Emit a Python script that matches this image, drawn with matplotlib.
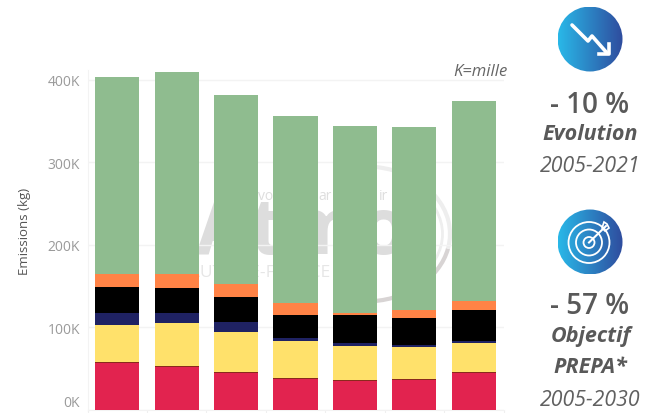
import matplotlib
matplotlib.use("Agg")
import matplotlib.pyplot as plt
import numpy as np
from matplotlib.colors import LinearSegmentedColormap
from matplotlib.patches import Circle, Arc, Polygon

plt.rcParams["font.family"] = ["Open Sans", "DejaVu Sans"]

# K de chaque couche, du bas vers le haut
red = [56.6, 52.0, 44.8, 37.0, 34.7, 36.0, 44.4]
brown = [1.4, 1.3, 0.8, 1.8, 1.3, 0.8, 1.2]
yellow = [45.0, 51.7, 48.1, 44.0, 41.6, 39.6, 35.6]
navy = [14.6, 12.6, 13.3, 4.5, 3.4, 1.6, 1.6]
black = [31.4, 30.4, 29.6, 27.4, 33.7, 32.7, 38.2]
orange = [16.0, 16.4, 16.4, 15.0, 2.9, 9.7, 11.0]
green = [238.0, 245.6, 229.0, 225.9, 226.4, 222.6, 242.5]

layers = [red, brown, yellow, navy, black, orange, green]
colors = ["#e2234f", "#8a2a1c", "#ffe16b", "#1f2263", "#000000", "#ff8346", "#8fbc8f"]
yticks = [0, 100, 200, 300, 400]
ytick_labels = ["0K", "100K", "200K", "300K", "400K"]

W, H = 654, 414
fig = plt.figure(figsize=(W / 100, H / 100), dpi=100)

# axes calees sur les pixels : 0K vers y=411, 400K vers y=81
top_px, bottom_px = 70.8, 410.8
left_px, right_px = 87.5, 503.5
ax = fig.add_axes([left_px / W, 1 - bottom_px / H,
                   (right_px - left_px) / W, (bottom_px - top_px) / H])
ax.set_ylim(0, (bottom_px - top_px) / 0.825)
ax.set_xlim(-0.5, 6.5)
ax.patch.set_alpha(0)

x = np.arange(len(red))
bottom = np.zeros(len(red))
for vals, col in zip(layers, colors):
    ax.bar(x, vals, width=0.745, bottom=bottom, color=col, zorder=3)
    bottom += np.array(vals)

ax.set_yticks(yticks)
ax.set_yticklabels(ytick_labels, fontsize=10, color="#9a9a9a", va="center_baseline")
ax.get_yticklabels()[0].set_va("bottom")
ax.set_xticks(np.arange(-0.5, 7, 1))
ax.set_xticklabels([])
ax.tick_params(axis="x", length=2.5, color="#efefef")
ax.tick_params(axis="y", length=0, pad=5.5)
ax.grid(axis="y", color="#f3f3f3", linewidth=1, zorder=0)
ax.set_axisbelow(True)
for s in ["top", "right"]:
    ax.spines[s].set_visible(False)
ax.spines["left"].set_color("#f3f3f3")
ax.spines["bottom"].set_color("#f3f3f3")
ax.set_ylabel("Emissions (kg)", fontsize=9.5, color="#555555")
ax.yaxis.set_label_coords(-0.135, 0.527)

# filigrane derriere les barres
bg = fig.add_axes([0, 0, 1, 1], zorder=-1)
bg.set_xlim(0, W)
bg.set_ylim(H, 0)
bg.axis("off")
bg.text(196, 254, "Atmo", fontsize=56, fontweight="bold", color="#dddddd",
        ha="left", va="baseline")
for frag, fx in [("vo", 266), ("ar", 325), ("ir", 384)]:
    bg.text(fx, 197, frag, fontsize=10, color="#dedede", ha="center", va="center")
bg.text(331, 273, "HAUTS-DE-FRANCE", fontsize=12.5, color="#e6e6e6", ha="right", va="center")
bg.add_patch(Arc((365, 235), 170, 135, theta1=10, theta2=90, color="#d8d4d4", linewidth=3))
bg.add_patch(Arc((365, 235), 170, 135, theta1=-80, theta2=10, color="#eeeeee", linewidth=3))
bg.add_patch(Arc((365, 235), 155, 120, theta1=-40, theta2=40, color="#eeeeee", linewidth=2))

fig.text(508 / W, 1 - 72.5 / H, "K=mille", fontsize=12, style="italic", color="#666666",
         ha="right", va="center")

# panneau de droite
ov = fig.add_axes([0, 0, 1, 1], zorder=5)
ov.set_xlim(0, W)
ov.set_ylim(H, 0)
ov.axis("off")
cmap = LinearSegmentedColormap.from_list("kpi", ["#29b8e8", "#2f4c9e"])
grad = np.linspace(0, 1, 128).reshape(1, -1)


def badge(cx, cy, r=32.5):
    im = ov.imshow(grad, cmap=cmap, extent=[cx - r, cx + r, cy + r, cy - r],
                   aspect="auto", zorder=1)
    c = Circle((cx, cy), r, transform=ov.transData)
    im.set_clip_path(c)


badge(590, 40)
ov.set_xlim(0, W)
ov.set_ylim(H, 0)
ov.plot([572, 588, 592, 607], [26, 42, 37, 54], color="white", linewidth=2.6,
        solid_capstyle="round", zorder=2)
ov.plot([599, 609, 609], [55, 55, 45], color="white", linewidth=2.6, zorder=2)

badge(590, 243)
ov.set_xlim(0, W)
ov.set_ylim(H, 0)
for r in [20.5, 13, 5.5]:
    ov.add_patch(Circle((589, 243.5), r, fill=False, edgecolor="white", linewidth=1.3, zorder=2))
ov.plot([589, 606], [243.5, 227], color="white", linewidth=1.5, zorder=2)
ov.add_patch(Polygon([[602, 229], [604, 223], [607, 225], [609, 229], [605, 232]],
                     closed=True, fill=False, edgecolor="white", linewidth=1.2, zorder=2))

txt = "#595959"
big = dict(fontsize=20, color=txt, ha="center", va="center", fontweight="semibold")
label = dict(fontsize=15.5, color=txt, ha="center", va="center", fontweight="bold", style="italic")
years = dict(fontsize=15.3, color="#606060", ha="center", va="center", style="italic")
ov.text(590, 106, "- 10 %", **big)
ov.text(590, 135, "Evolution", **label)
ov.text(590, 167, "2005-2021", **years)
ov.text(590, 307, "- 57 %", **big)
ov.text(591, 337, "Objectif", **label)
ov.text(590, 368, "PREPA*", **label)
ov.text(590, 401, "2005-2030", **years)

fig.savefig("out.png", dpi=100)
